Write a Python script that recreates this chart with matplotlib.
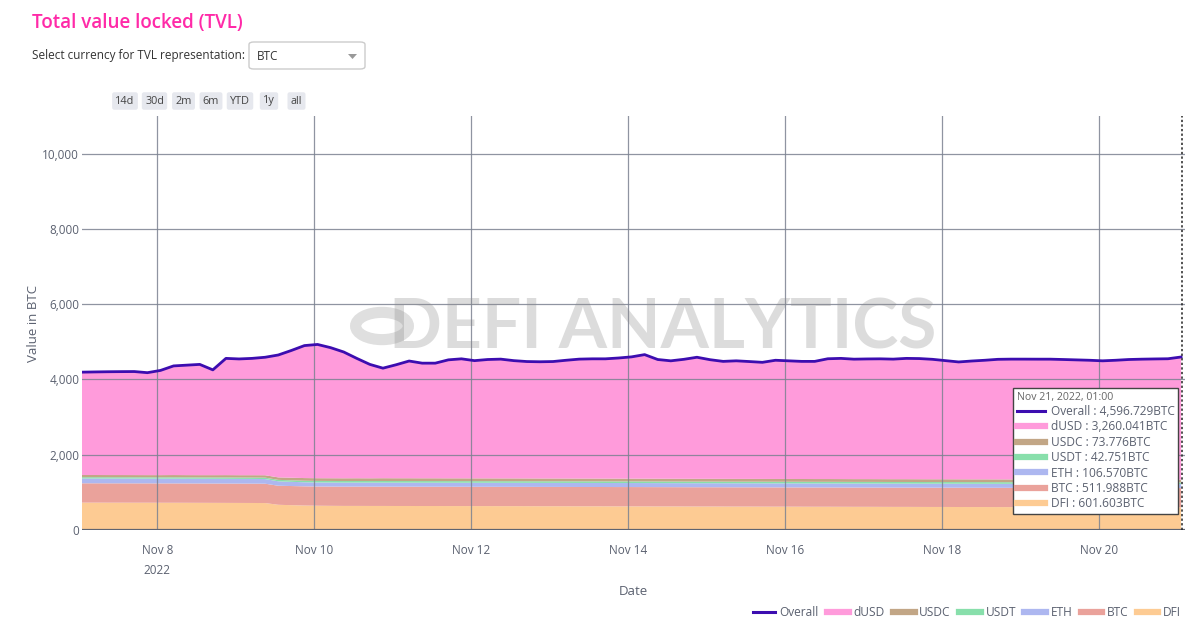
import datetime as dt
import matplotlib
matplotlib.use("Agg")
import matplotlib.pyplot as plt
from matplotlib.lines import Line2D
from matplotlib.patches import FancyBboxPatch, Polygon
import numpy as np

plt.rcParams['font.family'] = ['Open Sans', 'DejaVu Sans']

# ---------------- data (4-hourly, Nov 7 01:00 -> Nov 21 01:00, values in BTC) -------------
start_time = dt.datetime(2022, 11, 7, 1, 0)
step_hours = 4

overall = [4194, 4200, 4205, 4208, 4210, 4180, 4240, 4360, 4380, 4400,
           4255, 4560, 4545, 4560, 4590, 4650, 4770, 4900, 4930, 4845,
           4730, 4560, 4400, 4300, 4390, 4490, 4433, 4433, 4521, 4548,
           4500, 4530, 4540, 4500, 4476, 4470, 4476, 4510, 4540, 4548,
           4548, 4570, 4600, 4660, 4530, 4495, 4535, 4590, 4525, 4480,
           4495, 4476, 4455, 4510, 4495, 4480, 4480, 4550, 4560, 4539,
           4545, 4548, 4540, 4560, 4555, 4535, 4500, 4465, 4490, 4510,
           4535, 4540, 4540, 4539, 4539, 4530, 4520, 4510, 4495, 4510,
           4530, 4539, 4545, 4550, 4596.729]

dfi = [727, 727, 726, 726, 725, 725, 724, 724, 723, 722,
       721, 720, 719, 718, 716, 670, 660, 650, 645, 642,
       640, 640, 639, 639, 638, 638, 637, 637, 636, 636,
       635, 635, 634, 634, 633, 632, 632, 631, 630, 630,
       629, 628, 628, 627, 626, 626, 625, 624, 624, 623,
       622, 622, 621, 620, 620, 619, 618, 618, 617, 616,
       616, 615, 614, 614, 613, 612, 612, 611, 610, 610,
       609, 608, 608, 607, 606, 606, 605, 604, 604, 603,
       603, 603, 602, 602, 601.603]

btc = [514, 514, 514, 514, 514, 514, 514, 514, 514, 514,
       514, 514, 514, 514, 514, 506, 508, 510, 511, 512,
       512, 513, 513, 513, 513, 513, 513, 513, 513, 513,
       513, 513, 513, 513, 513, 513, 513, 513, 513, 513,
       513, 513, 513, 513, 513, 512, 512, 512, 512, 512,
       512, 512, 512, 512, 512, 512, 512, 512, 512, 512,
       512, 512, 512, 512, 512, 512, 512, 512, 512, 512,
       512, 512, 512, 512, 512, 512, 512, 512, 512, 512,
       512, 512, 512, 512, 511.988]

eth = [128, 128, 128, 128, 128, 127, 127, 127, 126, 126,
       126, 126, 125, 125, 124, 118, 112, 108, 107, 107,
       107, 107, 107, 107, 107, 107, 107, 107, 107, 107,
       107, 107, 107, 107, 107, 107, 107, 107, 107, 107,
       107, 107, 107, 107, 107, 107, 107, 107, 107, 107,
       107, 107, 107, 107, 107, 107, 107, 107, 107, 107,
       107, 107, 107, 107, 107, 107, 107, 107, 107, 107,
       107, 107, 107, 107, 107, 107, 107, 107, 107, 107,
       107, 107, 107, 107, 106.570]

usdt = [34, 34, 34, 34, 34, 34, 34, 35, 35, 35,
        35, 36, 36, 36, 37, 38, 40, 41, 41, 42,
        42, 42, 42, 43, 43, 43, 43, 43, 43, 43,
        43, 43, 43, 43, 43, 43, 43, 43, 43, 43,
        43, 43, 43, 43, 43, 43, 43, 43, 43, 43,
        43, 43, 43, 43, 43, 43, 43, 43, 43, 43,
        43, 43, 43, 43, 43, 43, 43, 43, 43, 43,
        43, 43, 43, 43, 43, 43, 43, 43, 43, 43,
        43, 43, 43, 43, 42.751]

usdc = [58, 58, 58, 58, 58, 58, 59, 60, 60, 60,
        61, 62, 62, 63, 64, 66, 69, 71, 72, 72,
        73, 73, 73, 74, 74, 74, 74, 74, 74, 74,
        74, 74, 74, 74, 74, 74, 74, 74, 74, 74,
        74, 74, 74, 74, 74, 74, 74, 74, 74, 74,
        74, 74, 74, 74, 74, 74, 74, 74, 74, 74,
        74, 74, 74, 74, 74, 74, 74, 74, 74, 74,
        74, 74, 74, 74, 74, 74, 74, 74, 74, 74,
        74, 74, 74, 74, 73.776]

series_names = ['DFI', 'BTC', 'ETH', 'USDT', 'USDC', 'dUSD']
series_colors = ['#fdcb93', '#eaa29b', '#adb7f0', '#88dfab', '#c2a686', '#ff9bdb']
overall_color = '#3c0db0'
y_ticks = [0, 2000, 4000, 6000, 8000, 10000]
x_tick_days = [8, 10, 12, 14, 16, 18, 20]
hover_title = 'Nov 21, 2022, 01:00'

# ---------------------------------------------------------------------------------------
times = [start_time + dt.timedelta(hours=step_hours * i) for i in range(len(overall))]
overall_a = np.array(overall, dtype=float)
others = np.array(dfi) + np.array(btc) + np.array(eth) + np.array(usdt) + np.array(usdc)
dusd = overall_a - others

W, H = 1200, 620
fig = plt.figure(figsize=(W / 100, H / 100), dpi=100)
fig.patch.set_facecolor('white')

def fx(px):
    return px / W

def fy(py):
    return 1 - py / H

ax_w_px = 1185 - 82
ax = fig.add_axes([fx(82), fy(530), fx(1185) - fx(82), fy(116) - fy(530)])
ax.set_facecolor('white')

stack = [dfi, btc, eth, usdt, usdc, dusd]
ax.stackplot(times, *stack, colors=series_colors, linewidth=0, zorder=2)
ax.plot(times, overall_a, color=overall_color, lw=2.0, zorder=4, solid_joinstyle='round')

ax.set_ylim(0, 11000)
ax.set_xlim(times[0], times[-1] + dt.timedelta(hours=1.2))

grid_c = '#7b8291'
for yv in y_ticks[1:]:
    ax.axhline(yv, color=grid_c, lw=0.9, zorder=3, alpha=0.85)
xt = [dt.datetime(2022, 11, d) for d in x_tick_days]
for xv in xt:
    ax.axvline(xv, color=grid_c, lw=0.9, zorder=3, alpha=0.85)
ax.axhline(0, color='#5f6470', lw=1.6, zorder=5)

for s in ax.spines.values():
    s.set_visible(False)
ax.set_yticks(y_ticks)
ax.set_yticklabels([f'{v:,}' for v in y_ticks])
ax.set_xticks(xt)
ax.set_xticklabels(['Nov 8\n2022'] + [f'Nov {d}' for d in x_tick_days[1:]])
ax.tick_params(axis='both', length=0, colors='#5b6170', labelsize=8.5)
ax.tick_params(axis='x', pad=10)
ax.tick_params(axis='y', pad=2)
for lab in ax.get_xticklabels():
    lab.set_linespacing(1.7)
    lab.set_verticalalignment('top')

ax.set_xlabel('Date', color='#5b6170', fontsize=9.5, labelpad=6)
ax.set_ylabel('Value in BTC', color='#5b6170', fontsize=9.5)
ax.yaxis.set_label_coords(-(82 - 40) / ax_w_px, 0.5)

# hover spike line
ax.axvline(times[-1] + dt.timedelta(minutes=10), color='#222', lw=1.1, ls=(0, (1.5, 1.5)), zorder=6)

# watermark
fig.text(fx(663), fy(329), 'DEFI ANALYTICS', ha='center', va='center', fontsize=50,
         color='#8c8c8c', alpha=0.3, fontweight='bold', zorder=10, family=['Lato', 'DejaVu Sans'])
circ = plt.Circle((fx(382), fy(326)), 0.022, transform=fig.transFigure, fill=False,
                  lw=8, edgecolor='#8c8c8c', alpha=0.28, zorder=10)
fig.add_artist(circ)

# hover box (unified hover)
hover_vals = [overall[-1], dusd[-1], usdc[-1], usdt[-1], eth[-1], btc[-1], dfi[-1]]
hover_names = ['Overall', 'dUSD', 'USDC', 'USDT', 'ETH', 'BTC', 'DFI']
hover_cols = [overall_color, series_colors[5], series_colors[4], series_colors[3],
              series_colors[2], series_colors[1], series_colors[0]]
h_handles = []
for i, c in enumerate(hover_cols):
    h_handles.append(Line2D([], [], color=c, lw=2.2 if i == 0 else 4.5))
h_labels = [f'{n} : {v:,.3f}BTC' for n, v in zip(hover_names, hover_vals)]
hleg = fig.legend(h_handles, h_labels, loc='upper left', bbox_to_anchor=(fx(1013), fy(388)),
                  fontsize=8.6, title=hover_title, title_fontsize=7.6, alignment='left',
                  frameon=True, fancybox=False, framealpha=1, handlelength=2.4, handletextpad=0.45,
                  labelspacing=0.2, borderpad=0.3, borderaxespad=0)
hleg.get_frame().set_edgecolor('#444')
hleg.get_frame().set_linewidth(1.0)
hleg.get_title().set_color('#666')
for t in hleg.get_texts():
    t.set_color('#5b6170')
hleg.set_zorder(20)

# bottom legend
b_handles = [Line2D([], [], color=c, lw=2.2 if i == 0 else 4.5) for i, c in enumerate(hover_cols)]
bleg = fig.legend(b_handles, hover_names, loc='center right', bbox_to_anchor=(fx(1186), fy(613)),
                  ncol=7, frameon=False, fontsize=8.6, handlelength=1.8, handletextpad=0.4,
                  columnspacing=0.7, borderaxespad=0)
for t in bleg.get_texts():
    t.set_color('#5b6170')

# title and controls
fig.text(fx(32), fy(23), 'Total value locked (TVL)', color='#ff2aa8', fontsize=13.5,
         va='center', ha='left', fontweight='semibold')
fig.text(fx(32), fy(56), 'Select currency for TVL representation:', color='#333', fontsize=8.5,
         va='center', ha='left')
box = FancyBboxPatch((fx(249), fy(69)), fx(365) - fx(249), fy(42) - fy(69),
                     boxstyle='round,pad=0,rounding_size=0.004', transform=fig.transFigure,
                     facecolor='white', edgecolor='#cccccc', lw=1)
fig.add_artist(box)
fig.text(fx(257), fy(56), 'BTC', color='#333', fontsize=8.5, va='center', ha='left')
tri = Polygon([[fx(348), fy(54)], [fx(357), fy(54)], [fx(352.5), fy(59)]], closed=True,
              transform=fig.transFigure, facecolor='#999', edgecolor='none')
fig.add_artist(tri)

buttons = ['14d', '30d', '2m', '6m', 'YTD', '1y', 'all']
btn_x = [125, 154.5, 183.5, 211, 240, 269, 296.5]
for b, x in zip(buttons, btn_x):
    fig.text(fx(x), fy(101), b, ha='center', va='center', fontsize=7.8, color='#444',
             bbox=dict(boxstyle='round,pad=0.3,rounding_size=0.2', facecolor='#e6e8ee', edgecolor='none'))

fig.savefig('out.png', dpi=100, facecolor='white')
